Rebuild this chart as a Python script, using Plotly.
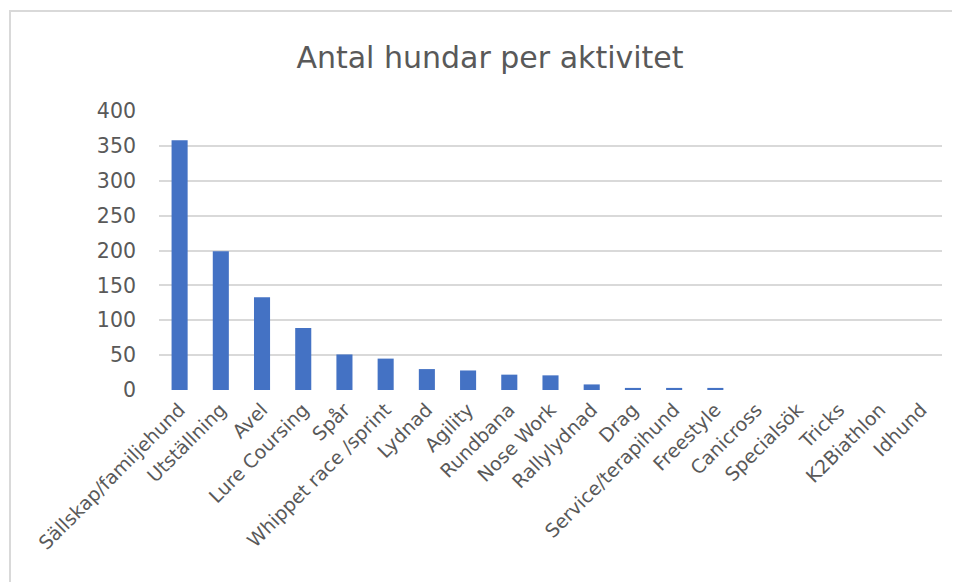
import plotly.graph_objects as go

categories = ["Sällskap/familjehund", "Utställning", "Avel", "Lure Coursing", "Spår",
              "Whippet race /sprint", "Lydnad", "Agility", "Rundbana", "Nose Work",
              "Rallylydnad", "Drag", "Service/terapihund", "Freestyle", "Canicross",
              "Specialsök", "Tricks", "K2Biathlon", "Idhund"]
values = [358, 199, 133, 89, 51, 45, 30, 28, 22, 21, 8, 3, 3, 3, 0, 0, 0, 0, 0]
y_ticks = [0, 50, 100, 150, 200, 250, 300, 350, 400]
title_text = "Antal hundar per aktivitet"

# page has 8px body margin: figure starts at (8, 8)
W, H = 952, 574
L, R, T, B = 151, 18, 103, 192

fig = go.Figure(go.Bar(x=categories, y=values, marker=dict(color="#4472C4", line=dict(width=0))))

fig.update_layout(
    width=W, height=H,
    margin=dict(l=L, r=R, t=T, b=B),
    paper_bgcolor="white", plot_bgcolor="white",
    bargap=0.61,
    showlegend=False,
    font=dict(family="DejaVu Sans, sans-serif", color="#595959"),
    title=dict(text=title_text, x=(490 - 8) / W, xref="container", xanchor="center",
               y=1 - 49 / H, yref="container", yanchor="middle",
               font=dict(size=30, color="#595959")),
)

fig.update_yaxes(range=[0, 400], tickvals=y_ticks, showgrid=True, gridcolor="#d9d9d9",
                 gridwidth=1.5, zeroline=False, showline=False, ticks="",
                 ticklabelstandoff=22, tickfont=dict(size=20.5, color="#595959"))
fig.update_xaxes(showgrid=False, showline=False, zeroline=False, ticks="", tickangle=-45,
                 tickfont=dict(size=19, color="#595959"), ticklabelstandoff=4)

pw, ph = W - L - R, H - T - B
fig.add_shape(type="rect", xref="paper", yref="paper",
              x0=(2 - L) / pw, x1=1.2, y0=-1.0, y1=1 + (T - 3) / ph,
              line=dict(color="#d9d9d9", width=2), fillcolor="rgba(0,0,0,0)", layer="below")

fig.write_html("out.html")
